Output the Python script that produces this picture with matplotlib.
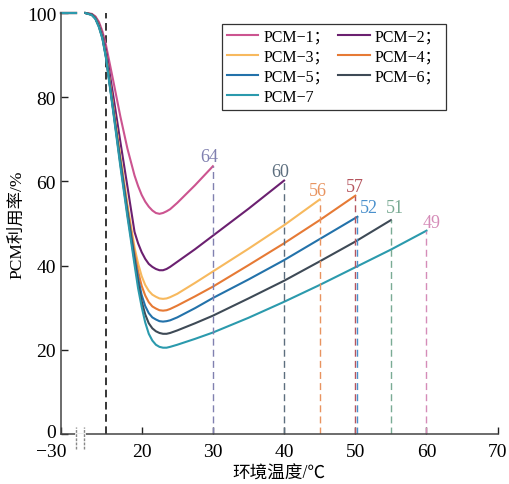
import numpy as np
import matplotlib
matplotlib.use('Agg')
import matplotlib.pyplot as plt
from matplotlib.transforms import ScaledTranslation

plt.rcParams['font.family'] = ['Liberation Serif', 'Noto Sans CJK SC']
plt.rcParams['font.size'] = 11.5

names = ['PCM−1；', 'PCM−2；', 'PCM−3；', 'PCM−4；', 'PCM−5；', 'PCM−6；', 'PCM−7']
colors = ['#cc5490', '#6b2070', '#f7b95e', '#e67a35', '#2372aa', '#3e4a56', '#2b9aad']

# temperature grid (after the axis break)
x_grid = [12.1, 13, 13.5, 14, 14.5, 15, 16, 17, 18, 19, 19.5, 20, 20.5, 21, 21.5, 22,
          22.5, 23, 23.5, 24, 25, 27.5, 30, 35, 40, 45, 50, 55, 60]

pcm1 = [100, 99.8, 99.2, 97.9, 95.6, 92.3, 84, 75.5, 67.8, 61.4, 58.9, 56.8, 55.2, 54,
        53.1, 52.5, 52.3, 52.5, 52.9, 53.4, 54.9, 59.1, 63.6]
pcm2 = [100, 99.7, 99, 97.4, 94.8, 91, 80.5, 69.5, 58.8, 48, 45.3, 43.2, 41.6, 40.4,
        39.7, 39.2, 38.9, 38.9, 39.2, 39.7, 40.9, 43.9, 47.1, 53.5, 60.2]
pcm3 = [100, 99.6, 98.8, 97.1, 94.3, 90, 78, 66, 54.5, 44.3, 40.5, 37.5, 35.4, 34,
        33.1, 32.6, 32.2, 32.1, 32.2, 32.5, 33.3, 35.9, 38.6, 44.0, 49.6, 55.7]
pcm4 = [100, 99.6, 98.8, 97, 94.2, 89.8, 77.6, 65.4, 53.7, 43, 38.6, 35.2, 32.9, 31.3,
        30.3, 29.8, 29.4, 29.3, 29.4, 29.7, 30.5, 32.7, 35.0, 40.1, 45.3, 50.8, 56.6]
pcm5 = [100, 99.6, 98.7, 96.9, 94.1, 89.6, 77.2, 64.9, 53, 42, 37, 33, 30.4, 28.7,
        27.7, 27.2, 26.8, 26.7, 26.8, 27.0, 27.7, 29.9, 32.3, 36.7, 41.3, 46.3, 51.6]
pcm6 = [100, 99.6, 98.7, 96.8, 94, 89.4, 77, 64.3, 52.3, 41.2, 35.8, 31.5, 28.4, 26.3,
        25.1, 24.4, 24.0, 23.8, 23.8, 24.0, 24.6, 26.3, 28.1, 32.2, 36.4, 41.0, 45.7, 50.8]
pcm7 = [100, 99.5, 98.6, 96.6, 93.8, 89.2, 76.6, 63.7, 51.6, 40.2, 34.6, 30.2, 26.5, 23.8,
        22.2, 21.2, 20.7, 20.5, 20.5, 20.7, 21.2, 22.6, 24.1, 27.6, 31.4, 35.4, 39.6, 43.8, 48.3]
series = [pcm1, pcm2, pcm3, pcm4, pcm5, pcm6, pcm7]

end_x = [30, 40, 45, 50, 50.3, 55, 60]
end_labels = ['64', '60', '56', '57', '52', '51', '49']
mark_colors = ['#8080b0', '#5c6e7e', '#e8935f', '#b5555e', '#4a90cc', '#7aab94', '#d58cb8']
label_offsets = [(-2.5, 3.6), (-2.5, 3.6), (-1, 3), (0, 3.6), (8, 3.4), (3, 5.8), (4, 2.7)]

lead_x = [-30, 10.8]
xticks = [-30, 20, 30, 40, 50, 60, 70]
yticks = [0, 20, 40, 60, 80, 100]

# compress -30..10 into a short stretch before the break
k = 0.03325
def fwd(x):
    x = np.asarray(x, dtype=float)
    return np.where(x < 10, 10 + (x - 10) * k, x)
def inv(u):
    u = np.asarray(u, dtype=float)
    return np.where(u < 10, 10 + (u - 10) / k, u)

fig = plt.figure(figsize=(5.09, 4.85), dpi=100)
ax = fig.add_axes([0.1198, 0.1031, 0.858, 0.868])
ax.set_xscale('function', functions=(fwd, inv))

ax.plot([15, 15], [0, 100], color='black', lw=1.1, ls=(0, (5, 3)))

handles = []
for ys, c, nm, ex in zip(series, colors, names, end_x):
    xs = [x for x in x_grid if x < ex - 0.5] + [ex]
    ax.plot(lead_x, [100, 100], color=c, lw=1.5, clip_on=False)
    h, = ax.plot(xs, ys, color=c, lw=1.5, label=nm, clip_on=False,
                 solid_joinstyle='round')
    handles.append(h)

for ys, ex, lb, mc, off in zip(series, end_x, end_labels, mark_colors, label_offsets):
    ey = ys[-1]
    ax.plot([ex, ex], [0, ey], color=mc, lw=1.0, ls=(0, (5, 3)))
    ax.annotate(lb, (ex, ey), xytext=off, textcoords='offset points',
                ha='center', va='baseline', color=mc, fontsize=13)

ax.set_xlim(-30, 70)
ax.set_ylim(0, 100)
ax.set_xticks(xticks)
ax.set_xticklabels(['−30'] + [str(t) for t in xticks[1:]])
ax.set_yticks(yticks)
ax.tick_params(direction='in', length=5, width=1, colors='#222222', labelcolor='black',
               labelsize=14)
ax.tick_params(axis='x', pad=6.5)
ax.tick_params(axis='y', pad=3.5)
for s in ['top', 'right']:
    ax.spines[s].set_visible(False)
for s in ['left', 'bottom']:
    ax.spines[s].set_color('#444444')
    ax.spines[s].set_linewidth(1.1)

lbl = ax.get_xticklabels()[0]
lbl.set_transform(lbl.get_transform() + ScaledTranslation(-0.10, 0, fig.dpi_scale_trans))
ylbl = ax.get_yticklabels()[0]
ylbl.set_transform(ylbl.get_transform() + ScaledTranslation(0, 0.03, fig.dpi_scale_trans))

# axis break marks
ax.plot([10.8, 11.85], [0, 0], color='white', lw=2, clip_on=False, zorder=5)
for bx in [10.8, 11.85]:
    ax.axvline(bx, ymin=-0.036, ymax=0.017, color='#888888', lw=1, ls=(0, (2, 1)),
               clip_on=False, zorder=6)

ax.set_xlabel('环境温度/℃', fontsize=12.7, labelpad=3)
ax.set_ylabel('PCM利用率/%', fontsize=12.5, labelpad=1)

order = [0, 2, 4, 6, 1, 3, 5]
leg = ax.legend([handles[i] for i in order], [names[i] for i in order], ncol=2,
                loc='upper left', bbox_to_anchor=(0.4356, 0.9485),
                bbox_transform=fig.transFigure, borderaxespad=0, frameon=True,
                fancybox=False, framealpha=1, edgecolor='#333333',
                handlelength=2.0, handletextpad=0.3, columnspacing=0.5,
                labelspacing=0.25, borderpad=0.3)
leg.get_frame().set_linewidth(0.9)

fig.savefig('out.png', dpi=100)
